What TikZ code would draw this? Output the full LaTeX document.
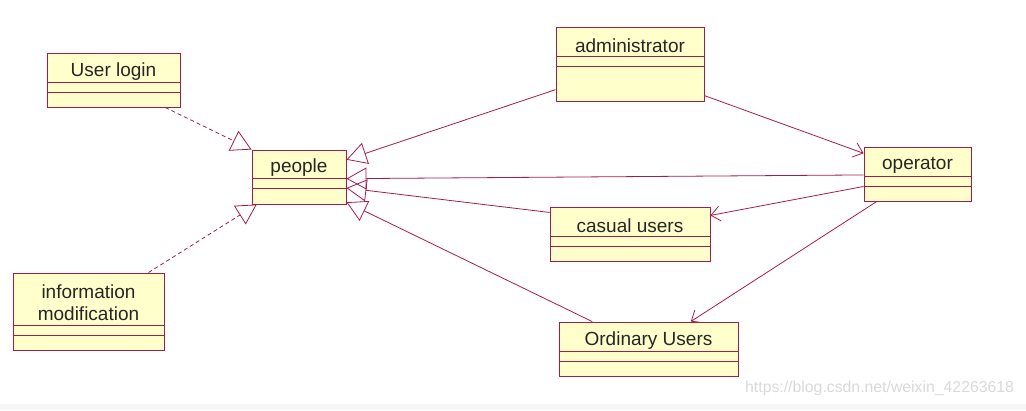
\documentclass[tikz,border=0pt]{standalone}
\usepackage{fontspec}
\setmainfont{Liberation Sans}
\usetikzlibrary{calc,arrows.meta}

\definecolor{umlred}{RGB}{165,28,72}
\definecolor{umlfill}{RGB}{255,255,204}

\tikzset{
  classbox/.style={draw=umlred, fill=umlfill, line width=0.9pt, inner sep=0pt},
  classname/.style={font=\fontsize{19}{22}\selectfont, text=black!85, align=center, inner sep=0pt},
  classline/.style={draw=umlred, line width=0.9pt},
  inherit/.style={umlred, line width=0.8pt, -{Triangle[open, length=20pt, width=22pt]}},
  realize/.style={inherit, dash pattern=on 4pt off 3pt},
  assoc/.style={umlred, line width=0.8pt, -{Straight Barb[length=9pt, width=15pt]}}
}

% name, centre, width, height, height of name part, text
\newcommand{\umlclass}[6]{%
  \node[classbox, minimum width=#3pt, minimum height=#4pt] (#1) at #2 {};
  \node[classname] (#1-name) at ($(#1.north)+(0,#5/2+4)$) {#6};
  \draw[classline] ($(#1.north west)+(0,#5)$) -- ++(#3,0) ++(-#3,10) -- ++(#3,0);
}

\begin{document}
\begin{tikzpicture}[x=1pt, y=-1pt]
  \useasboundingbox (0,0) rectangle (1026,410);
  \fill[gray!7] (0,404) rectangle (1026,410);

  \umlclass{userlogin}{(113.5,80)}{133}{54}{30}{User login}
  \umlclass{people}{(299,177)}{94}{54}{29}{people}
  \umlclass{info}{(88.5,311.5)}{151}{77}{53}{information\\modification}
  \umlclass{admin}{(630,64)}{148}{74}{30}{administrator}
  \umlclass{operator}{(917.5,174)}{107}{54}{30}{operator}
  \umlclass{casual}{(630,234)}{160}{54}{30}{casual users}
  \umlclass{ordinary}{(648.5,349)}{179}{54}{30}{Ordinary Users}

  \draw[realize] (userlogin.-28) -- (people.north west);
  \draw[realize] (info.33) -- (people.213);
  \draw[inherit] (admin.199) -- (people.20);
  \draw[inherit] (operator.181) -- (people.-2);
  \draw[inherit] (casual.165) -- (people.-13);
  \draw[inherit] (ordinary.154) -- (people.-28);

  \draw[assoc] (admin.-23) -- (operator.159);
  \draw[assoc] (operator.193) -- (casual.13);
  \draw[assoc] (operator.214) -- (ordinary.33);

  \node[font=\fontsize{15.8}{18}\selectfont, text=gray!30, anchor=west, inner sep=0pt] (mark) at (745,388) {https://blog.csdn.net/weixin\_42263618};
\end{tikzpicture}
\end{document}
